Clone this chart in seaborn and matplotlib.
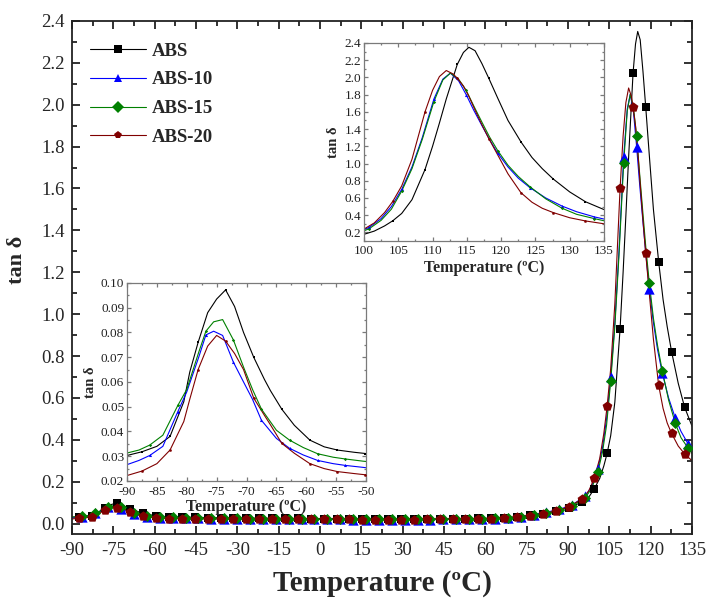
import numpy as np
import matplotlib
matplotlib.use('Agg')
import matplotlib.pyplot as plt
from matplotlib.lines import Line2D
from matplotlib.ticker import MultipleLocator, FormatStrFormatter
import seaborn as sns

# =============================================================================
# DATA
# =============================================================================
# temperature grid shared by ABS and ABS-20 (degC)
temp_a = [-90, -87.5, -85, -82.8, -80.5, -79.5, -78.1, -76.5, -75, -73.5,
          -72, -70.5, -68.8, -67, -66, -64.1, -62, -59.4, -57, -54.8,
          -52, -50.1, -45.4, -40.7, -36.1, -31.4, -26.7, -22.0, -17.4, -12.7,
          -8.0, -3.3, 1.3, 6.0, 10.7, 15.4, 20.0, 24.7, 29.4, 34.1,
          38.7, 43.4, 48.1, 52.8, 57.5, 62.1, 66.8, 71.5, 76.2, 80.8,
          85.5, 90.2, 94.9, 97.5, 99.5, 101.5, 103, 104.2, 105.5, 107,
          108.9, 110, 111, 112, 113, 113.6, 114.5, 115.3, 116.2, 117.2,
          118.2, 119.5, 121, 122.9, 124.5, 126, 127.6, 130, 132.3, 135]

tan_abs = [0.0303, 0.0318, 0.0340, 0.0380, 0.0520, 0.0640, 0.0760, 0.0880, 0.0935, 0.0972,
           0.0905, 0.0800, 0.0700, 0.0610, 0.0565, 0.0490, 0.0425, 0.0365, 0.0338, 0.0325,
           0.0316, 0.0311, 0.0295, 0.0285, 0.0275, 0.0268, 0.0262, 0.0256, 0.0250, 0.0245,
           0.0240, 0.0236, 0.0232, 0.0228, 0.0225, 0.0222, 0.0220, 0.0220, 0.0220, 0.0221,
           0.0222, 0.0224, 0.0228, 0.0234, 0.0243, 0.0258, 0.0280, 0.0320, 0.0390, 0.0470,
           0.0580, 0.0750, 0.1010, 0.1250, 0.1650, 0.2150, 0.2750, 0.3350, 0.4200, 0.5800,
           0.9300, 1.2000, 1.4700, 1.7500, 2.0000, 2.1500, 2.2900, 2.3500, 2.3100, 2.1600,
           1.9900, 1.7600, 1.5000, 1.2500, 1.0700, 0.9400, 0.8200, 0.6700, 0.5560, 0.4650]

tan_abs20 = [0.0222, 0.0240, 0.0270, 0.0325, 0.0440, 0.0530, 0.0650, 0.0745, 0.0788, 0.0765,
             0.0715, 0.0650, 0.0535, 0.0465, 0.0427, 0.0352, 0.0312, 0.0270, 0.0250, 0.0238,
             0.0230, 0.0225, 0.0220, 0.0215, 0.0212, 0.0210, 0.0207, 0.0205, 0.0203, 0.0201,
             0.0199, 0.0197, 0.0195, 0.0193, 0.0192, 0.0191, 0.0190, 0.0190, 0.0190, 0.0191,
             0.0193, 0.0196, 0.0200, 0.0207, 0.0218, 0.0235, 0.0262, 0.0305, 0.0370, 0.0460,
             0.0590, 0.0800, 0.1150, 0.1550, 0.2150, 0.3100, 0.4300, 0.5600, 0.7400, 1.0500,
             1.6000, 1.8500, 2.0100, 2.0800, 2.0400, 1.9900, 1.9000, 1.7800, 1.6200, 1.4500,
             1.2900, 1.1000, 0.8800, 0.6600, 0.5500, 0.4800, 0.4300, 0.3700, 0.3330, 0.3000]

# temperatures carrying a symbol (ABS, ABS-20)
mark_a = [-87.5, -82.8, -78.1, -73.5, -68.8, -64.1, -59.4, -54.8, -50.1, -45.4,
          -40.7, -36.1, -31.4, -26.7, -22.0, -17.4, -12.7, -8.0, -3.3, 1.3,
          6.0, 10.7, 15.4, 20.0, 24.7, 29.4, 34.1, 38.7, 43.4, 48.1,
          52.8, 57.5, 62.1, 66.8, 71.5, 76.2, 80.8, 85.5, 90.2, 94.9,
          99.5, 104.2, 108.9, 113.6, 118.2, 122.9, 127.6, 132.3]

# temperature grid shared by ABS-10 and ABS-15 (degC)
temp_b = [-90, -88, -86.2, -84, -81.5, -80, -79, -78, -76.8, -75.5,
          -74, -72.2, -70.5, -69, -67.5, -65, -62.8, -60.5, -58.1, -55.5,
          -53.5, -50.5, -48.8, -44.1, -39.4, -34.8, -30.1, -25.4, -20.7, -16.1,
          -11.4, -6.7, -2.0, 2.6, 7.3, 12.0, 16.7, 21.3, 26.0, 30.7,
          35.4, 40.0, 44.7, 49.4, 54.1, 58.8, 63.4, 68.1, 72.8, 77.5,
          82.1, 86.8, 91.5, 96.2, 98.5, 100.8, 102.5, 104, 105.5, 107,
          108.5, 110.2, 111.5, 112.6, 113.8, 114.9, 116, 117.2, 118.3, 119.5,
          121, 122.5, 124.2, 126.5, 128.9, 131, 133.6, 135]

tan_abs10 = [0.0266, 0.0283, 0.0303, 0.0340, 0.0480, 0.0560, 0.0630, 0.0700, 0.0790, 0.0805,
             0.0788, 0.0680, 0.0600, 0.0530, 0.0445, 0.0372, 0.0332, 0.0305, 0.0283, 0.0270,
             0.0263, 0.0255, 0.0250, 0.0243, 0.0236, 0.0230, 0.0225, 0.0220, 0.0215, 0.0210,
             0.0206, 0.0202, 0.0198, 0.0195, 0.0192, 0.0190, 0.0188, 0.0187, 0.0187, 0.0187,
             0.0188, 0.0190, 0.0193, 0.0197, 0.0204, 0.0215, 0.0233, 0.0265, 0.0320, 0.0430,
             0.0540, 0.0670, 0.0890, 0.1300, 0.1750, 0.2600, 0.3600, 0.5000, 0.7000, 0.9600,
             1.3000, 1.7500, 1.9800, 2.0500, 1.9600, 1.8000, 1.6200, 1.4400, 1.2800, 1.1200,
             0.9600, 0.8300, 0.7200, 0.6000, 0.5050, 0.4400, 0.3800, 0.3550]

tan_abs15 = [0.0313, 0.0325, 0.0345, 0.0385, 0.0505, 0.0570, 0.0645, 0.0720, 0.0805, 0.0843,
             0.0852, 0.0770, 0.0660, 0.0570, 0.0490, 0.0405, 0.0365, 0.0335, 0.0310, 0.0296,
             0.0289, 0.0280, 0.0276, 0.0268, 0.0260, 0.0252, 0.0245, 0.0238, 0.0232, 0.0226,
             0.0220, 0.0215, 0.0211, 0.0207, 0.0203, 0.0200, 0.0198, 0.0197, 0.0196, 0.0196,
             0.0197, 0.0199, 0.0202, 0.0206, 0.0213, 0.0224, 0.0242, 0.0272, 0.0320, 0.0400,
             0.0500, 0.0630, 0.0840, 0.1230, 0.1650, 0.2450, 0.3400, 0.4700, 0.6800, 0.9400,
             1.2800, 1.7200, 1.9700, 2.0500, 1.9800, 1.8500, 1.6700, 1.4800, 1.3100, 1.1500,
             0.9800, 0.8500, 0.7300, 0.5900, 0.4800, 0.4100, 0.3600, 0.3350]

# temperatures carrying a symbol (ABS-10, ABS-15)
mark_b = [-86.2, -81.5, -76.8, -72.2, -67.5, -62.8, -58.1, -53.5, -48.8, -44.1,
          -39.4, -34.8, -30.1, -25.4, -20.7, -16.1, -11.4, -6.7, -2.0, 2.6,
          7.3, 12.0, 16.7, 21.3, 26.0, 30.7, 35.4, 40.0, 44.7, 49.4,
          54.1, 58.8, 63.4, 68.1, 72.8, 77.5, 82.1, 86.8, 91.5, 96.2,
          100.8, 105.5, 110.2, 114.9, 119.5, 124.2, 128.9, 133.6]

labels = ['ABS', 'ABS-10', 'ABS-15', 'ABS-20']

assert len(temp_a) == len(tan_abs) == len(tan_abs20)
assert len(temp_b) == len(tan_abs10) == len(tan_abs15)

# =============================================================================
# STYLE
# =============================================================================
sns.set_style('ticks')
plt.rcParams['font.family'] = ['Liberation Serif', 'DejaVu Serif']
plt.rcParams['axes.unicode_minus'] = False

series = [
    # label, T, tan, marker temps, symbol, colour, main size
    (labels[0], temp_a, tan_abs, mark_a, 's', '#000000', 40),
    (labels[1], temp_b, tan_abs10, mark_b, '^', '#0000ff', 55),
    (labels[2], temp_b, tan_abs15, mark_b, 'D', '#008000', 32),
    (labels[3], temp_a, tan_abs20, mark_a, 'p', '#800000', 55),
]


def draw(ax, msize_scale, lw):
    for lab, T, y, mk, sym, col, ms in series:
        T = np.asarray(T)
        y = np.asarray(y)
        sns.lineplot(x=T, y=y, ax=ax, color=col, lw=lw, sort=False,
                     estimator=None, legend=False)
        sel = np.isin(T, mk)
        sns.scatterplot(x=T[sel], y=y[sel], ax=ax, marker=sym, color=col,
                        s=ms * msize_scale, linewidth=0, zorder=3, legend=False)


def style_ticks(ax, size, major_len, minor_len, width, color):
    ax.tick_params(which='both', direction='in', top=True, right=True,
                   width=width, color=color)
    ax.tick_params(which='major', length=major_len, labelsize=size)
    ax.tick_params(which='minor', length=minor_len)
    for sp in ax.spines.values():
        sp.set_color(color)
        sp.set_linewidth(width)


fig = plt.figure(figsize=(7.08, 6.01), dpi=100)

# ---- main axes -------------------------------------------------------------
ax = fig.add_axes([0.1017, 0.1115, 0.8757, 0.8536])
draw(ax, 1.0, 0.8)
ax.set_xlim(-90, 135)
ax.set_ylim(-0.05, 2.4)
ax.xaxis.set_major_locator(MultipleLocator(15))
ax.xaxis.set_minor_locator(MultipleLocator(7.5))
ax.yaxis.set_major_locator(MultipleLocator(0.2))
ax.yaxis.set_minor_locator(MultipleLocator(0.1))
ax.yaxis.set_major_formatter(FormatStrFormatter('%.1f'))
style_ticks(ax, 13.5, 6, 3.5, 1.3, '#222222')
ax.tick_params(axis='x', pad=6)
ax.tick_params(axis='y', pad=5)
ax.set_xlabel('Temperature (ºC)', fontsize=21, fontweight='bold', labelpad=8)
ax.set_ylabel('tan δ', fontsize=16, fontweight='bold')
ax.yaxis.set_label_coords(-0.072, 0.535)

handles = [Line2D([], [], color=col, lw=0.8, marker=sym, markersize=6,
                  markeredgewidth=0)
           for _, _, _, _, sym, col, _ in series]
ax.legend(handles, labels, loc='upper left', bbox_to_anchor=(0.029, 0.958),
          frameon=False, borderpad=0, borderaxespad=0, handlelength=3.0,
          handletextpad=0.3, labelspacing=0.62,
          prop={'weight': 'bold', 'size': 13.5})

# ---- inset: main relaxation ----------------------------------------------
ins1 = fig.add_axes([0.5141, 0.599, 0.339, 0.3295])
draw(ins1, 0.09, 0.8)
ins1.set_xlim(100, 135)
ins1.set_ylim(0.1, 2.4)
ins1.xaxis.set_major_locator(MultipleLocator(5))
ins1.xaxis.set_minor_locator(MultipleLocator(2.5))
ins1.yaxis.set_major_locator(MultipleLocator(0.2))
ins1.yaxis.set_minor_locator(MultipleLocator(0.1))
ins1.yaxis.set_major_formatter(FormatStrFormatter('%.1f'))
style_ticks(ins1, 9.5, 3, 1.5, 0.9, '#7a7a7a')
ins1.tick_params(labelcolor='#222222', pad=2)
ins1.tick_params(axis='x', pad=3)
ins1.set_xlabel('Temperature (ºC)', fontsize=11.5, fontweight='bold', labelpad=2)
ins1.set_ylabel('tan δ', fontsize=10.5, fontweight='bold', labelpad=3)

# ---- inset: secondary relaxation -----------------------------------------
ins2 = fig.add_axes([0.1794, 0.1997, 0.3376, 0.3295])
draw(ins2, 0.09, 0.8)
ins2.set_xlim(-90, -50)
ins2.set_ylim(0.02, 0.10)
ins2.xaxis.set_major_locator(MultipleLocator(5))
ins2.xaxis.set_minor_locator(MultipleLocator(2.5))
ins2.yaxis.set_major_locator(MultipleLocator(0.01))
ins2.yaxis.set_minor_locator(MultipleLocator(0.005))
ins2.yaxis.set_major_formatter(FormatStrFormatter('%.2f'))
style_ticks(ins2, 9.5, 3, 1.5, 0.9, '#7a7a7a')
ins2.tick_params(labelcolor='#222222', pad=2)
ins2.tick_params(axis='x', pad=3.5)
ins2.set_xlabel('Temperature (ºC)', fontsize=11.5, fontweight='bold', labelpad=1)
ins2.set_ylabel('tan δ', fontsize=10.5, fontweight='bold', labelpad=3)

fig.savefig('out.png', dpi=100)
plt.close(fig)
